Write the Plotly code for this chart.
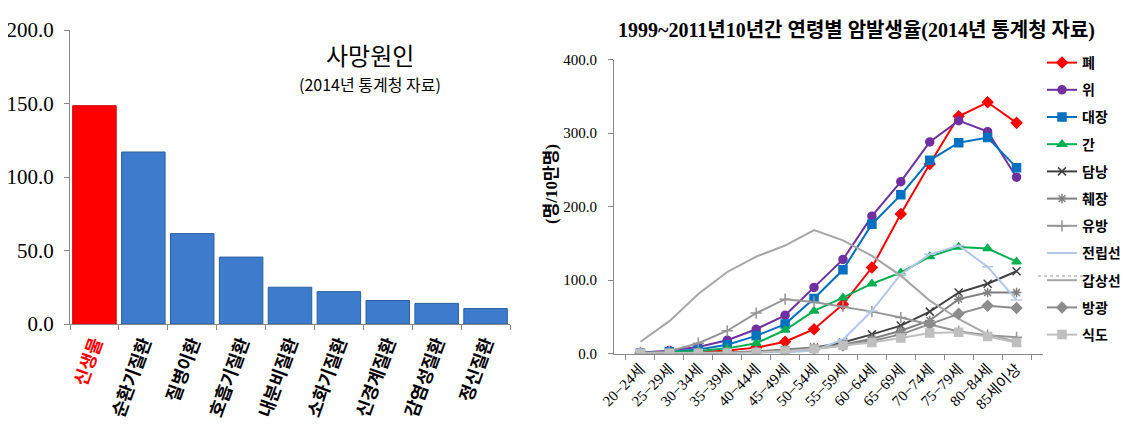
import plotly.graph_objects as go

# left chart: causes of death (2014)
causes = ["신생물", "순환기질환", "질병이환", "호흡기질환", "내분비질환",
          "소화기질환", "신경계질환", "감염성질환", "정신질환"]
death_rates = [148.5, 117.0, 61.5, 45.5, 25.0, 22.0, 16.0, 14.0, 10.5]

# right chart: cancer incidence by age
ages = ["20−24세", "25−29세", "30−34세", "35−39세", "40−44세", "45−49세", "50−54세",
        "55−59세", "60−64세", "65−69세", "70−74세", "75−79세", "80−84세", "85세이상"]
lung = [0.3, 0.8, 1.8, 4, 8, 16, 33, 67, 117, 190, 258, 323, 342, 314]
stomach = [1, 4, 9, 18, 33, 52, 90, 128, 187, 234, 288, 317, 302, 240]
colon = [0.8, 2.5, 5.5, 12, 24, 40, 75, 114, 176, 216, 263, 287, 294, 253]
liver = [0.5, 1.5, 3.5, 7, 14, 32, 58, 76, 95, 110, 132, 145, 143, 125]
gallbladder = [0.1, 0.2, 0.5, 1, 2, 4, 8, 15, 26, 38, 57, 83, 95, 112]
pancreas = [0.1, 0.3, 0.8, 1.5, 3, 5, 8, 12, 20, 31, 45, 74, 83, 83]
breast = [0.5, 3, 14, 31, 55, 74, 70, 64, 57, 49, 40, 30, 25, 22]
prostate = [0, 0, 0, 0.2, 0.5, 1.5, 4, 19, 58, 108, 135, 147, 118, 73]
thyroid = [16, 44, 81, 111, 132, 147, 168, 154, 133, 106, 72, 47, 26, 16]
bladder = [0.1, 0.3, 0.6, 1, 2, 3.5, 6, 11, 17, 26, 40, 54, 65, 62]
esophagus = [0.5, 0.5, 0.5, 0.8, 1.5, 3, 6, 11, 15, 21, 28, 29, 23, 15]

series = [
    ("폐", lung, "#ff0000", "diamond"),
    ("위", stomach, "#7030a0", "circle"),
    ("대장", colon, "#0070c0", "square"),
    ("간", liver, "#00b050", "triangle-up"),
    ("담낭", gallbladder, "#404040", "x-thin-open"),
    ("췌장", pancreas, "#808080", "asterisk-open"),
    ("유방", breast, "#969696", "cross-thin-open"),
    ("전립선", prostate, "#b4c7e7", "line-ew-open"),
    ("갑상선", thyroid, "#a6a6a6", None),
    ("방광", bladder, "#8c8c8c", "diamond"),
    ("식도", esophagus, "#bfbfbf", "square"),
]

W, H = 1134, 438
def px_x(v):
    return v / W
def px_y(v):
    return (H - v) / H

serif = "Liberation Serif, Noto Sans CJK KR"
sans = "Noto Sans CJK KR"

fig = go.Figure()

bar_colors = ["#ff0000"] + ["#3d7ccc"] * (len(causes) - 1)
line_colors = ["#cc0000"] + ["#2a5f9e"] * (len(causes) - 1)
fig.add_trace(go.Bar(x=causes, y=death_rates, marker_color=bar_colors,
                     marker_line_color=line_colors, marker_line_width=1,
                     showlegend=False, xaxis="x", yaxis="y"))

for i, (name, vals, color, sym) in enumerate(series):
    mode = "lines+markers" if sym else "lines"
    fig.add_trace(go.Scatter(
        x=ages, y=vals, name=name, mode=mode, legendgroup=f"g{i}",
        line=dict(color=color, width=2),
        marker=dict(symbol=sym or "circle", size=8, color=color,
                    line=dict(color=color, width=1.5)),
        xaxis="x2", yaxis="y2"))

ticktext = ["<span style='color:#ff0000'>신생물</span>"] + causes[1:]

fig.update_layout(
    width=W, height=H,
    margin=dict(l=0, r=0, t=0, b=0),
    paper_bgcolor="white", plot_bgcolor="white",
    bargap=0.11,
    xaxis=dict(domain=[px_x(62), px_x(502)], type="category",
               tickvals=causes, ticktext=ticktext, tickangle=-70,
               tickfont=dict(family=sans, size=18, color="black", weight="bold"),
               showline=True, linecolor="#888888", linewidth=1,
               ticks="outside", tickson="boundaries", ticklen=5, tickcolor="#888888",
               showgrid=False, automargin=False),
    yaxis=dict(domain=[px_y(316), px_y(22)], range=[0, 200], dtick=50,
               tickformat=".1f", showgrid=False, zeroline=False,
               showline=True, linecolor="#888888", ticks="outside", ticklen=5,
               tickcolor="#888888", ticklabelstandoff=6,
               tickfont=dict(family=serif, size=21, color="black"), automargin=False),
    xaxis2=dict(domain=[px_x(606), px_x(1035)], anchor="y2", type="category",
                tickangle=-45, tickfont=dict(family=serif, size=15, color="black"),
                showline=True, linecolor="#888888", ticks="outside",
                tickson="boundaries", ticklen=5, tickcolor="#888888",
                showgrid=False, automargin=False),
    yaxis2=dict(domain=[px_y(345.5), px_y(51.7)], anchor="x2", range=[0, 400],
                dtick=100, tickformat=".1f", showgrid=False, zeroline=False,
                showline=True, linecolor="#888888", ticks="outside", ticklen=5,
                tickcolor="#888888", ticklabelstandoff=8,
                tickfont=dict(family=serif, size=15, color="black"), automargin=False),
    legend=dict(x=px_x(1034), y=px_y(39), xanchor="left", yanchor="top",
                font=dict(family=serif, size=14, color="black", weight="bold"),
                tracegroupgap=6, bgcolor="rgba(0,0,0,0)"),
)

fig.add_annotation(text="사망원인", x=px_x(362), y=px_y(46), xref="paper", yref="paper",
                   xanchor="center", yanchor="middle", showarrow=False, borderpad=0,
                   font=dict(family=sans, size=24, color="black"))
fig.add_annotation(text="(2014년 통계청 자료)", x=px_x(362), y=px_y(76), xref="paper",
                   yref="paper", xanchor="center", yanchor="middle", showarrow=False,
                   borderpad=0, font=dict(family=sans, size=16, color="black"))
fig.add_annotation(text="1999~2011년10년간 연령별 암발생율(2014년 통계청 자료)",
                   x=px_x(848), y=px_y(22), xref="paper", yref="paper",
                   xanchor="center", yanchor="middle", showarrow=False,
                   font=dict(family=serif, size=20, color="black", weight="bold"))
fig.add_annotation(text="(명/10만명)", x=px_x(543), y=px_y(176), xref="paper",
                   yref="paper", xanchor="center", yanchor="middle",
                   showarrow=False, textangle=-90,
                   font=dict(family=serif, size=17, color="black", weight="bold"))

fig.add_shape(type="line", xref="paper", yref="paper",
              x0=px_x(1030), x1=px_x(1078), y0=px_y(268), y1=px_y(268),
              line=dict(color="#999999", width=1, dash="dot"))

fig.write_html("out.html")
